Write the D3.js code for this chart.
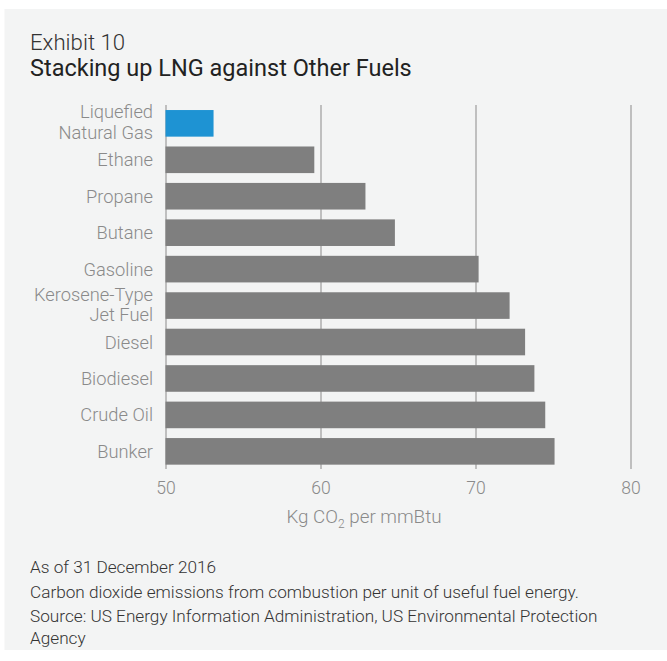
<!DOCTYPE html>
<html>
<head>
<meta charset="utf-8">
<script src="https://cdn.jsdelivr.net/npm/d3@7"></script>
<style>
  body { margin: 0; background: #ffffff; }
  svg { display: block; font-family: Roboto, "Liberation Sans", sans-serif; }
</style>
</head>
<body>
<div id="chart"></div>
<script>
// fuels, top to bottom ("\n" marks a line break in the label)
const fuels = ["Liquefied\nNatural Gas", "Ethane", "Propane", "Butane", "Gasoline",
    "Kerosene-Type\nJet Fuel", "Diesel", "Biodiesel", "Crude Oil", "Bunker"];
// Kg CO2 per mmBtu
const emissions = [53.1, 59.6, 62.9, 64.8, 70.2, 72.2, 73.2, 73.8, 74.5, 75.1];
const highlight = "Liquefied\nNatural Gas";
const xTicks = [50, 60, 70, 80];
const notes = [
    "As of 31 December 2016",
    "Carbon dioxide emissions from combustion per unit of useful fuel energy.",
    "Source: US Energy Information Administration, US Environmental Protection",
    "Agency"
];

const W = 667, H = 661;

let svg = d3.select("#chart").append("svg")
    .attr("width", W)
    .attr("height", H);

// grey panel
svg.append("rect")
    .attr("x", 4.5).attr("y", 9)
    .attr("width", W - 4.5).attr("height", 641)
    .attr("fill", "#f3f4f4");

// titles
svg.append("text")
    .attr("x", 30).attr("y", 50)
    .style("font-size", "22.2px").style("font-weight", 300)
    .attr("fill", "#333")
    .text("Exhibit 10");

svg.append("text")
    .attr("x", 30).attr("y", 76)
    .style("font-size", "23.5px")
    .attr("fill", "#222")
    .text("Stacking up LNG against Other Fuels");

// scales
let x = d3.scaleLinear()
    .domain([50, 80])
    .range([165.5, 630.5]);

let y = d3.scaleBand()
    .domain(fuels)
    .range([100.2, 474.5])
    .padding(0.27);

const gridTop = 105, gridBottom = 469;

// gridlines (behind bars)
let grid = svg.append("g")
    .attr("transform", "translate(0," + gridBottom + ")")
    .call(d3.axisBottom(x).tickValues(xTicks).tickSize(-(gridBottom - gridTop)).tickFormat(""));
grid.select(".domain").remove();
grid.selectAll("line").attr("stroke", "#a3a3a3").attr("stroke-width", 1.3);

// bars
svg.selectAll(".bar")
    .data(fuels)
    .enter()
    .append("rect")
    .attr("class", "bar")
    .attr("x", x(50))
    .attr("y", d => y(d))
    .attr("width", (d, i) => x(emissions[i]) - x(50))
    .attr("height", y.bandwidth())
    .attr("fill", d => d === highlight ? "#1e93d3" : "#7f7f7f");

// x axis labels
let xAxis = svg.append("g")
    .attr("transform", "translate(0," + gridBottom + ")")
    .call(d3.axisBottom(x).tickValues(xTicks).tickSize(0).tickFormat(d3.format("d")));
xAxis.select(".domain").remove();
xAxis.selectAll("text")
    .attr("y", 25).attr("dy", null)
    .attr("fill", "#8a8a8a")
    .style("font-size", "17.5px").style("font-weight", 300)
    .style("font-family", "Roboto, 'Liberation Sans', sans-serif");

// x axis title
let xTitle = svg.append("text")
    .attr("x", 364).attr("y", 523)
    .attr("text-anchor", "middle")
    .attr("fill", "#8a8a8a")
    .style("font-size", "18.8px").style("font-weight", 300);
xTitle.append("tspan").text("Kg CO");
xTitle.append("tspan").attr("dy", 5).style("font-size", "12px").text("2");
xTitle.append("tspan").attr("dy", -5).text(" per mmBtu");

// category labels
let labels = svg.selectAll(".cat")
    .data(fuels)
    .enter()
    .append("text")
    .attr("class", "cat")
    .attr("text-anchor", "end")
    .attr("fill", "#8a8a8a")
    .style("font-size", "18.3px").style("font-weight", 300);

labels.each(function(d) {
    let lines = d.split("\n");
    let cy = y(d) + y.bandwidth() / 2;
    let first = lines.length === 1 ? cy + 6.5 : cy - 5;
    lines.forEach((line, i) => {
        d3.select(this).append("tspan")
            .attr("x", 153)
            .attr("y", first + i * 20.5)
            .text(line);
    });
});

// footnotes
const noteY = [573, 598, 622, 643.5];
svg.selectAll(".note")
    .data(notes)
    .enter()
    .append("text")
    .attr("class", "note")
    .attr("x", 30)
    .attr("y", (d, i) => noteY[i])
    .attr("fill", "#333")
    .style("font-size", "17.2px").style("font-weight", 300)
    .text(d => d);
</script>
</body>
</html>
